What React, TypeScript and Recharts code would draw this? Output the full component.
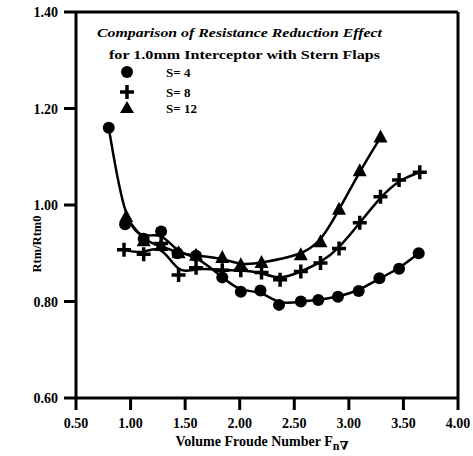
import React from "react";
import {
    ComposedChart, Line, XAxis, YAxis, ReferenceLine,
} from "recharts";

// S = 4 (circles)
const s4X = [0.80, 0.95, 1.12, 1.28, 1.43, 1.60, 1.84, 2.01, 2.19, 2.36, 2.56, 2.72, 2.90, 3.09, 3.28, 3.46, 3.64];
const s4Y = [1.16, 0.96, 0.93, 0.945, 0.90, 0.895, 0.85, 0.82, 0.823, 0.793, 0.80, 0.803, 0.81, 0.822, 0.848, 0.868, 0.90];

// S = 8 (plus)
const s8X = [0.94, 1.12, 1.28, 1.44, 1.60, 1.84, 2.01, 2.20, 2.37, 2.56, 2.74, 2.91, 3.10, 3.29, 3.46, 3.65];
const s8Y = [0.907, 0.898, 0.92, 0.855, 0.87, 0.865, 0.865, 0.86, 0.845, 0.862, 0.88, 0.91, 0.963, 1.017, 1.052, 1.068];

// S = 12 (triangles)
const s12X = [0.96, 1.12, 1.28, 1.44, 1.60, 1.84, 2.01, 2.20, 2.56, 2.74, 2.91, 3.10, 3.29];
const s12Y = [0.975, 0.925, 0.915, 0.90, 0.895, 0.89, 0.875, 0.88, 0.896, 0.923, 0.99, 1.07, 1.14];

const xTicks = [0.5, 1.0, 1.5, 2.0, 2.5, 3.0, 3.5, 4.0];
const yTicks = [0.6, 0.8, 1.0, 1.2, 1.4];

const toRows = (xs: number[], ys: number[]) => xs.map((x, i) => ({ x, y: ys[i] }));

const FONT = "'Liberation Serif', 'DejaVu Serif', serif";

function CircleDot(props: any) {
    const { cx, cy, index } = props;
    return <circle key={`c${index}`} cx={cx} cy={cy} r={6} fill="#000" />;
}

function PlusDot(props: any) {
    const { cx, cy, index } = props;
    return (
        <path
            key={`p${index}`}
            d={`M${cx - 7},${cy}H${cx + 7}M${cx},${cy - 7}V${cy + 7}`}
            stroke="#000"
            strokeWidth={3.5}
            fill="none"
        />
    );
}

function TriDot(props: any) {
    const { cx, cy, index } = props;
    return (
        <polygon
            key={`t${index}`}
            points={`${cx},${cy - 8} ${cx - 7},${cy + 5} ${cx + 7},${cy + 5}`}
            fill="#000"
        />
    );
}

function XTick(props: any) {
    const { x, y, payload } = props;
    return (
        <text x={x} y={y + 16} textAnchor="middle" style={{ fontFamily: FONT, fontWeight: 700, fontSize: 14 }} fill="#000">
            {Number(payload.value).toFixed(2)}
        </text>
    );
}

function YTick(props: any) {
    const { x, y, payload } = props;
    return (
        <text x={x - 4} y={y + 5} textAnchor="end" style={{ fontFamily: FONT, fontWeight: 700, fontSize: 14 }} fill="#000">
            {Number(payload.value).toFixed(2)}
        </text>
    );
}

// title, key and axis titles, drawn over the plot like in the original figure
function Overlay() {
    return (
        <svg
            width={473}
            height={456}
            style={{ position: "absolute", left: 0, top: 0, pointerEvents: "none", fontFamily: FONT, fontWeight: 700 }}
        >
            <text x={97} y={37} fontSize={13.5} fontStyle="italic" textLength={285} lengthAdjust="spacingAndGlyphs">
                Comparison of Resistance Reduction Effect
            </text>
            <text x={109} y={59} fontSize={13.5} textLength={271} lengthAdjust="spacingAndGlyphs">
                for 1.0mm Interceptor with Stern Flaps
            </text>
            <circle cx={127} cy={72} r={6} fill="#000" />
            <path d="M120,92H134M127,85V99" stroke="#000" strokeWidth={3.5} />
            <polygon points="127,101 120,113 134,113" fill="#000" />
            <text x={166} y={77} fontSize={13}>S= 4</text>
            <text x={166} y={97} fontSize={13}>S= 8</text>
            <text x={166} y={113} fontSize={13}>S= 12</text>

            <text x={262} y={446} textAnchor="middle" fontSize={14}>
                Volume Froude Number F
                <tspan fontSize={12} dy={4}>n∇</tspan>
            </text>
            <text x={41} y={244} transform="rotate(-90 41 244)" textAnchor="middle" fontSize={12.5}>
                Rtm/Rtm0
            </text>
        </svg>
    );
}

export default function App() {
    const axisLine = { stroke: "#000", strokeWidth: 3 };
    const tickLine = { stroke: "#000", strokeWidth: 3 };

    return (
        <div style={{ position: "absolute", left: 0, top: 0, width: 473, height: 456, background: "#fff" }}>
            <ComposedChart
                width={473}
                height={456}
                margin={{ top: 12, right: 15, bottom: 0, left: 0 }}
            >
                <XAxis
                    type="number"
                    dataKey="x"
                    domain={[0.5, 4]}
                    ticks={xTicks}
                    tick={<XTick />}
                    axisLine={axisLine}
                    tickLine={tickLine}
                    tickSize={12}
                    height={58}
                    interval={0}
                />
                <YAxis
                    type="number"
                    domain={[0.6, 1.4]}
                    ticks={yTicks}
                    tick={<YTick />}
                    axisLine={axisLine}
                    tickLine={tickLine}
                    tickSize={12}
                    width={76}
                    interval={0}
                />
                <ReferenceLine y={1.4} stroke="#000" strokeWidth={3} />
                <ReferenceLine x={4} stroke="#000" strokeWidth={3} />
                <Line
                    data={toRows(s4X, s4Y)}
                    dataKey="y"
                    type="basis"
                    stroke="#000"
                    strokeWidth={2.5}
                    dot={CircleDot}
                    activeDot={false}
                    isAnimationActive={false}
                />
                <Line
                    data={toRows(s8X, s8Y)}
                    dataKey="y"
                    type="basis"
                    stroke="#000"
                    strokeWidth={2.5}
                    dot={PlusDot}
                    activeDot={false}
                    isAnimationActive={false}
                />
                <Line
                    data={toRows(s12X, s12Y)}
                    dataKey="y"
                    type="basis"
                    stroke="#000"
                    strokeWidth={2.5}
                    dot={TriDot}
                    activeDot={false}
                    isAnimationActive={false}
                />
            </ComposedChart>
            <Overlay />
        </div>
    );
}
